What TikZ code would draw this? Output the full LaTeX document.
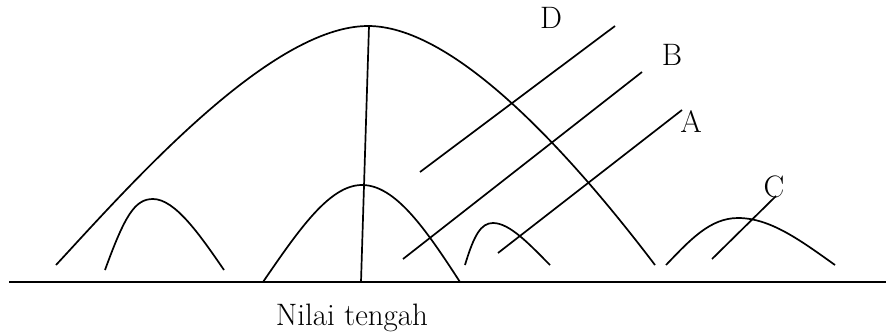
\documentclass[tikz,border=0pt]{standalone}
\usepackage{fontspec}
\setmainfont{Latin Modern Roman}
\begin{document}
\begin{tikzpicture}[x=1pt,y=-1pt,line width=1.7pt,
  lbl/.style={font=\fontsize{31}{34}\selectfont,inner sep=0pt}]
\useasboundingbox (0,0) rectangle (886,335);
% baseline
\coordinate (bl) at (9,282);
\coordinate (br) at (886,282);
\draw (bl) -- (br);
% big curve
\coordinate (bigL) at (56,265);
\coordinate (bigT) at (368,26);
\coordinate (bigR) at (655,265);
\draw (bigL) .. controls (130,185) and (270,26) .. (bigT) .. controls (450,26) and (560,140) .. (bigR);
% vertical median line
\coordinate (mt) at (369,26);
\coordinate (mb) at (361,282);
\draw (mt) -- (mb);
% small bumps
\draw (105,270) .. controls (125,215) and (135,199) .. (153,199) .. controls (175,199) and (200,235) .. (224,270);
\draw (263,282) .. controls (300,228) and (330,185) .. (362,185) .. controls (395,185) and (425,228) .. (460,282);
\draw (465,265) .. controls (474,235) and (481,223) .. (493,223) .. controls (510,223) and (530,245) .. (550,265);
\draw (666,265) .. controls (690,240) and (710,218) .. (738,218) .. controls (770,218) and (800,240) .. (835,265);
% pointer lines
\coordinate (d1) at (420,172); \coordinate (d2) at (615,26);
\coordinate (b1) at (403,259); \coordinate (b2) at (642,72);
\coordinate (a1) at (498,253); \coordinate (a2) at (682,110);
\coordinate (c1) at (712,259); \coordinate (c2) at (776,196);
\draw (d1) -- (d2);
\draw (b1) -- (b2);
\draw (a1) -- (a2);
\draw (c1) -- (c2);
% labels
\node[lbl] (D) at (551,18) {D};
\node[lbl] (B) at (672,55) {B};
\node[lbl] (A) at (691,122) {A};
\node[lbl] (C) at (774,187) {C};
\node[lbl] (nt) at (352,318) {Nilai tengah};
\end{tikzpicture}
\end{document}
